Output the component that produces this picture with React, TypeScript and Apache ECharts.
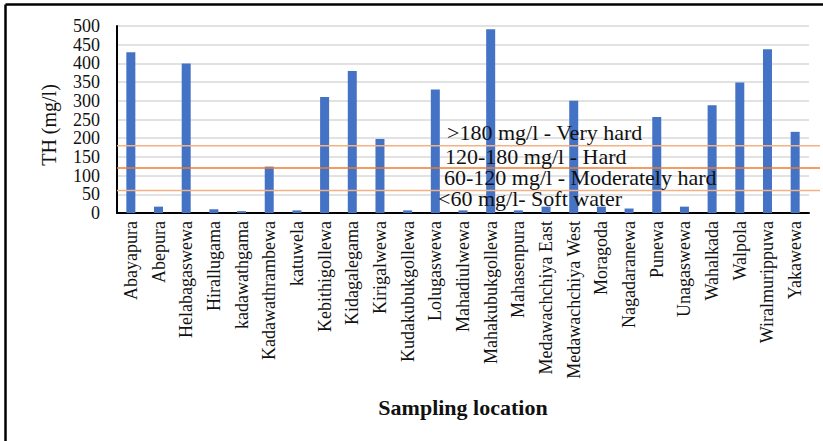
import React, { useEffect, useRef } from "react";
import * as echarts from "echarts";

const categories = [
  "Abayapura", "Abepura", "Helabagaswewa", "Hirallugama", "kadawathgama",
  "Kadawathrambewa", "katuwela", "Kebithigollewa", "Kidagalegama", "Kirigalwewa",
  "Kudakubukgollewa", "Lolugaswewa", "Mahadiulwewa", "Mahakubukgollewa", "Mahasenpura",
  "Medawachchiya East", "Medawachchiya West", "Moragoda", "Nagadaranewa", "Punewa",
  "Unagaswewa", "Wahalkada", "Walpola", "Wiralmurippuwa", "Yakawewa",
];
const thValues = [
  430, 17, 400, 10, 5,
  124, 7, 310, 380, 198,
  7, 330, 7, 491, 7,
  17, 300, 17, 12, 257,
  17, 288, 349, 438, 217,
];
const yMin = 0;
const yMax = 500;
const yInterval = 50;
const thresholds = [180, 120, 60];
const thresholdColors = ["#F4B183", "#ED7D31", "#F4B183"];
const classLabels = [
  ">180 mg/l - Very hard",
  "120-180 mg/l - Hard",
  "60-120 mg/l - Moderately hard",
  "<60 mg/l- Soft water",
];
const classLabelPos = [
  [447, 132.5],
  [445, 156],
  [444, 177.5],
  [438, 198.5],
];
const yAxisTitle = "TH (mg/l)";
const xAxisTitle = "Sampling location";

const SERIF = "'Liberation Serif', 'Times New Roman', serif";

export default function App() {
  const ref = useRef<HTMLDivElement>(null);
  useEffect(() => {
    if (!ref.current) return;
    const chart = echarts.init(ref.current, null, { renderer: "svg" });
    chart.setOption({
      animation: false,
      backgroundColor: "#ffffff",
      grid: { left: 117, right: 14, top: 26, bottom: 228, containLabel: false },
      xAxis: {
        type: "category",
        data: categories,
        axisLine: { lineStyle: { color: "#000", width: 2 } },
        axisTick: { show: false },
        axisLabel: {
          rotate: 90,
          interval: 0,
          margin: 8,
          fontFamily: SERIF,
          fontSize: 18,
          color: "#111",
        },
      },
      yAxis: {
        type: "value",
        min: yMin,
        max: yMax,
        interval: yInterval,
        axisLine: { show: true, lineStyle: { color: "#000", width: 2 } },
        axisTick: { show: false },
        axisLabel: {
          margin: 17,
          fontFamily: SERIF,
          fontSize: 18,
          color: "#111",
        },
        splitLine: { lineStyle: { color: "#D9D9D9", width: 1.5 } },
      },
      series: [
        {
          type: "bar",
          data: thValues,
          barWidth: 9,
          itemStyle: { color: "#4472C4" },
        },
      ],
    });

    const left = 117;
    const right = 820;
    const graphics: any[] = [];
    thresholds.forEach((v, i) => {
      const y = chart.convertToPixel({ yAxisIndex: 0 }, v) as number;
      graphics.push({
        type: "line",
        z: 50,
        shape: { x1: left, y1: y, x2: right, y2: y },
        style: { stroke: thresholdColors[i], lineWidth: 1.5 },
      });
    });
    classLabels.forEach((t, i) => {
      graphics.push({
        type: "text",
        z: 60,
        x: classLabelPos[i][0],
        y: classLabelPos[i][1],
        style: {
          text: t,
          fontFamily: SERIF,
          fontSize: 22,
          lineHeight: 20,
          fill: "#111",
          textAlign: "left",
          textVerticalAlign: "middle",
        },
      });
    });
    graphics.push({
      type: "text",
      x: 49,
      y: 125,
      rotation: Math.PI / 2,
      style: {
        text: yAxisTitle,
        fontFamily: SERIF,
        fontSize: 20,
        fill: "#111",
        textAlign: "center",
        textVerticalAlign: "middle",
      },
    });
    graphics.push({
      type: "text",
      x: 463,
      y: 407,
      style: {
        text: xAxisTitle,
        fontFamily: SERIF,
        fontSize: 22,
        fontWeight: "bold",
        fill: "#111",
        textAlign: "center",
        textVerticalAlign: "middle",
      },
    });
    graphics.push({
      type: "line",
      shape: { x1: 5.5, y1: 4.5, x2: 823, y2: 4.5 },
      style: { stroke: "#000", lineWidth: 2.5 },
    });
    graphics.push({
      type: "line",
      shape: { x1: 5.5, y1: 4.5, x2: 5.5, y2: 441 },
      style: { stroke: "#000", lineWidth: 2.5 },
    });
    chart.setOption({ graphic: graphics });

    return () => chart.dispose();
  }, []);
  return (
    <div
      ref={ref}
      style={{ position: "fixed", left: 0, top: 0, width: 823, height: 441 }}
    />
  );
}
